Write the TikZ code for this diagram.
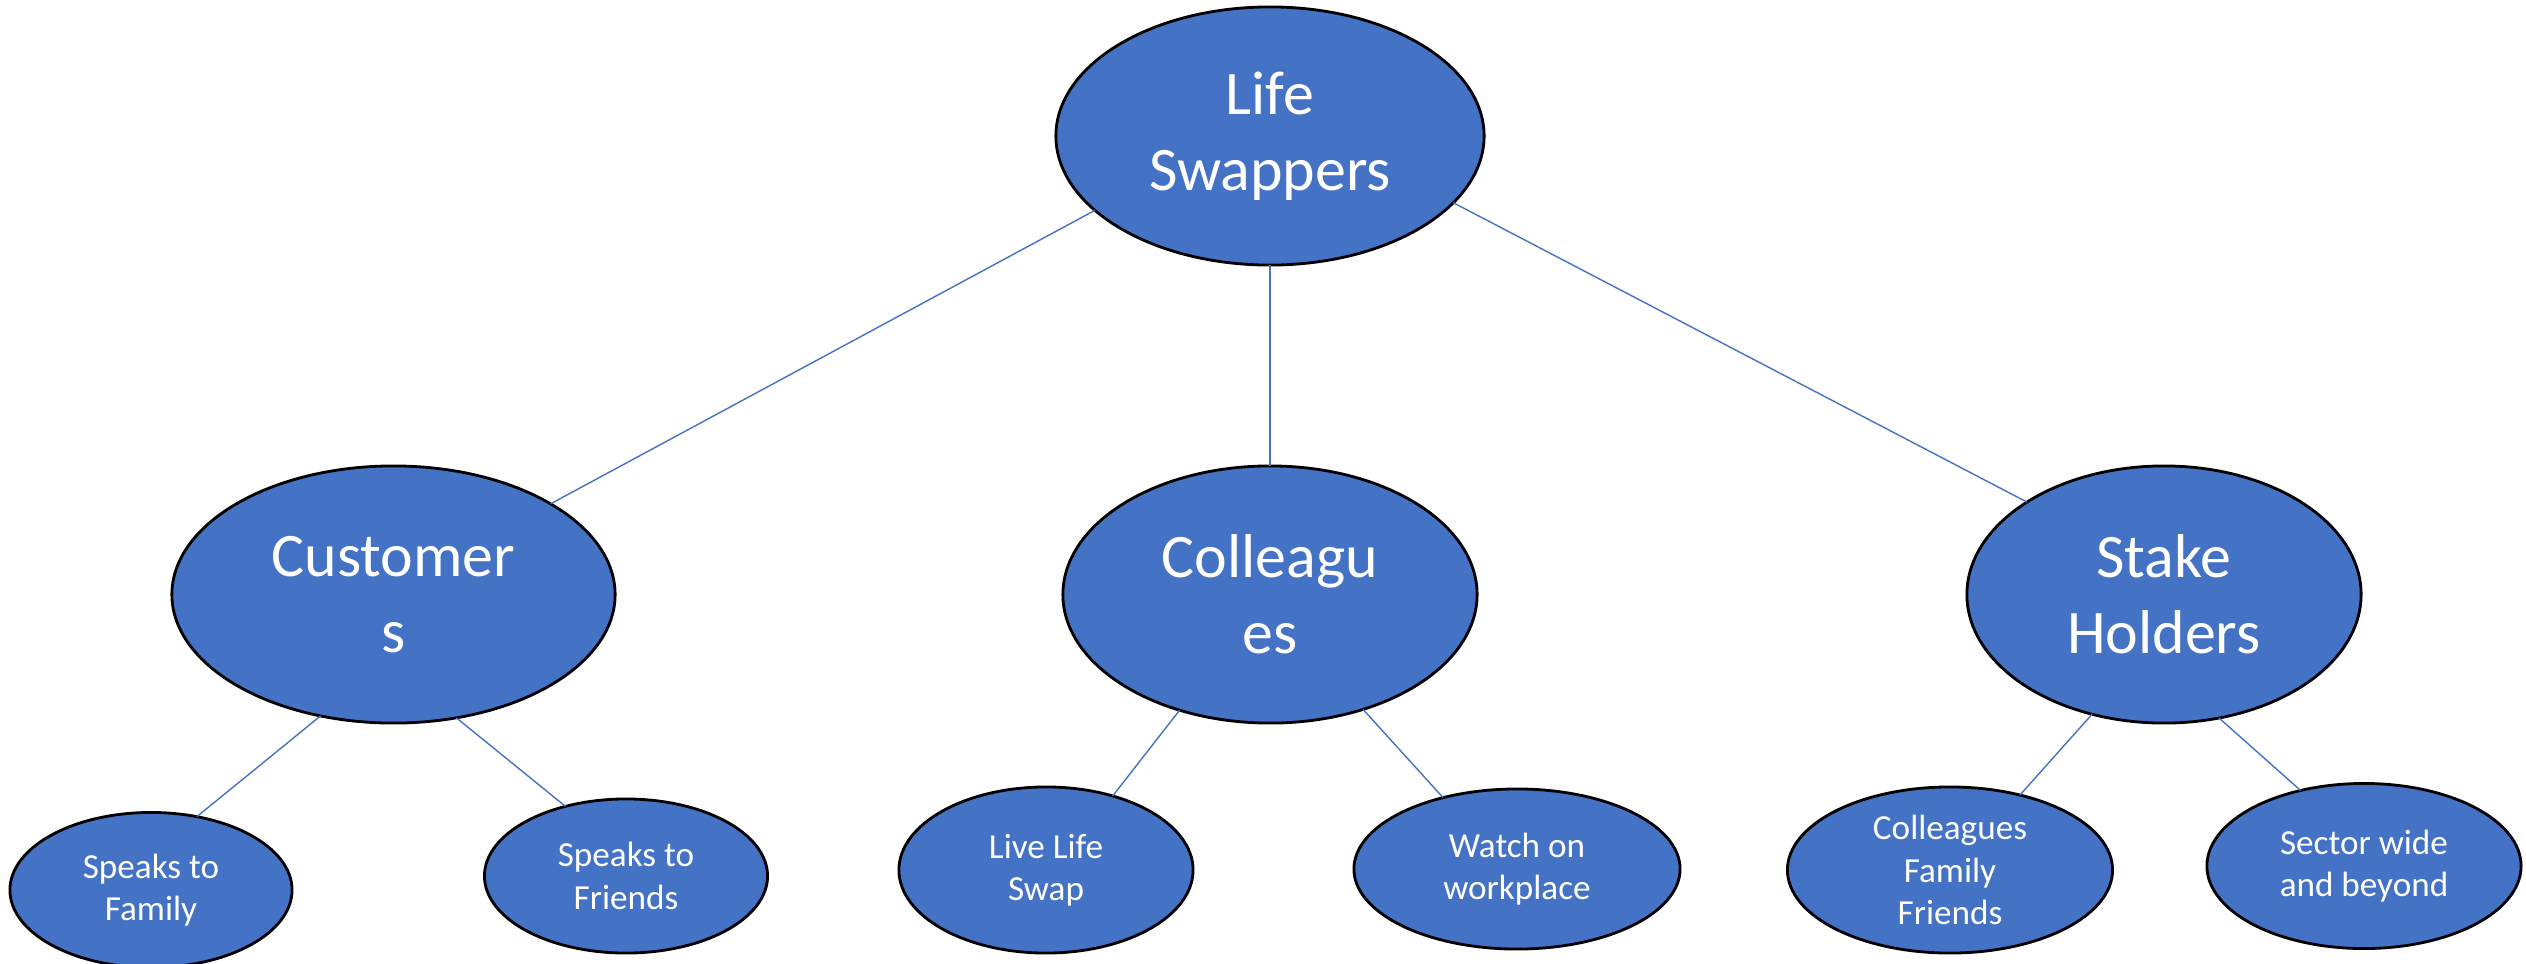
\documentclass[tikz,border=0pt]{standalone}
\usepackage{fontspec}
\setmainfont{Carlito}
\usetikzlibrary{shapes.geometric}
\definecolor{officeblue}{HTML}{4472C4}

\begin{document}
\begin{tikzpicture}[x=0.01cm, y=-0.01cm,
		bubble/.style={draw=black, line width=0.8pt, fill=officeblue, ellipse, inner sep=0pt, outer sep=0pt, text=white, align=center},
		bigbubble/.style={bubble, minimum height=2.57cm, font=\fontsize{17.6}{21.7}\selectfont},
		smallbubble/.style={bubble, font=\fontsize{10}{12}\selectfont},
		link/.style={draw=officeblue, line width=0.4pt}]
			\useasboundingbox (0,0) rectangle (2526,963);
			\node[bigbubble, minimum width=4.28cm, minimum height=2.58cm] (lifeswappers) at (1270,136) {Life\\Swappers};
			\node[bigbubble, minimum width=4.43cm] (customers) at (393.5,594.5) {Customer\\s};
			\node[bigbubble, minimum width=4.14cm] (colleagues) at (1270,594.5) {Colleagu\\es};
			\node[bigbubble, minimum width=3.94cm] (stakeholders) at (2164,594.5) {Stake\\Holders};
			\node[smallbubble, minimum width=2.82cm, minimum height=1.55cm] (speaksfamily) at (151,890) {Speaks to\\Family};
			\node[smallbubble, minimum width=2.83cm, minimum height=1.54cm] (speaksfriends) at (626,876) {Speaks to\\Friends};
			\node[smallbubble, minimum width=2.94cm, minimum height=1.66cm] (livelifeswap) at (1046,870) {Live Life\\Swap};
			\node[smallbubble, minimum width=3.26cm, minimum height=1.60cm] (watchworkplace) at (1517,869) {Watch on\\workplace};
			\node[smallbubble, minimum width=3.25cm, minimum height=1.66cm] (colleaguesfamily) at (1950,870) {Colleagues\\Family\\Friends};
			\node[smallbubble, minimum width=3.14cm, minimum height=1.65cm] (sectorwide) at (2364,866) {Sector wide\\and beyond};
			\path[link] (lifeswappers.203.6) -- (customers.30.3);
			\path[link] (lifeswappers.south) -- (colleagues.north);
			\path[link] (lifeswappers.340.4) -- (stakeholders.146.4);
			\path[link] (customers.239.9) -- (speaksfamily.58.9);
			\path[link] (customers.-63.5) -- (speaksfriends.131);
			\path[link] (colleagues.232.2) -- (livelifeswap.48.3);
			\path[link] (colleagues.-51.9) -- (watchworkplace.136.6);
			\path[link] (stakeholders.239.4) -- (colleaguesfamily.47);
			\path[link] (stakeholders.-66.5) -- (sectorwide.130.5);
		\end{tikzpicture}
\end{document}
